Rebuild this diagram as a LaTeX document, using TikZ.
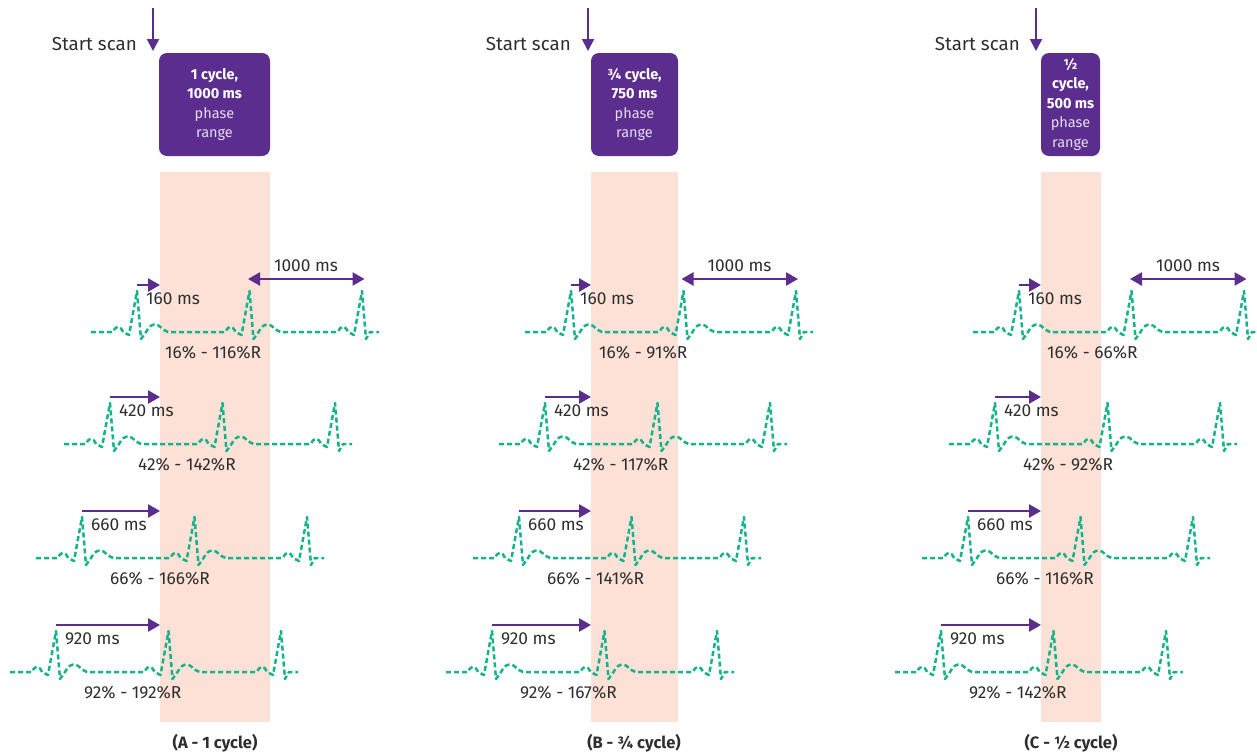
\documentclass[tikz,border=0pt]{standalone}
\usepackage{fontspec}
\setmainfont{Fira Sans}
\usetikzlibrary{arrows.meta}
\definecolor{pur}{HTML}{5B2D8E}
\definecolor{pinkband}{HTML}{FDE1D6}
\definecolor{ecggreen}{HTML}{14B38B}
\definecolor{txt}{HTML}{2E2E2E}
\definecolor{boxlight}{HTML}{E6DDF2}
\tikzset{
  ecg/.style={draw=ecggreen, line width=2.5pt, dash pattern=on 5pt off 3pt, line join=round},
  marr/.style={draw=pur, line width=2.4pt, -{Triangle[length=12pt,width=13pt]}},
  dblarr/.style={draw=pur, line width=2.4pt, {Triangle[length=12pt,width=13pt]}-{Triangle[length=12pt,width=13pt]}},
  darr/.style={draw=pur, line width=2pt, -{Triangle[length=12pt,width=12pt]}},
  lbl/.style={inner sep=0pt, text=txt, font=\fontsize{17.3}{20}\selectfont},
  sslbl/.style={inner sep=0pt, text=txt, font=\fontsize{18.8}{22}\selectfont},
  caplbl/.style={inner sep=0pt, text=txt, font=\fontsize{16.5}{19}\selectfont\bfseries},
  phbox/.style={fill=pur, rounded corners=8pt, inner sep=0pt, align=center, text=white,
     font=\fontsize{14.5}{19.5}\selectfont},
  band/.style={fill=pinkband, draw=none}
}
\newcommand\ecgrow[6]{%
  \pgfmathsetmacro\ra{#2}%
  \pgfmathsetmacro\rb{#2+112.5}%
  \pgfmathsetmacro\rc{#2+225}%
  \draw[ecg] ({\ra-46},#3) -- ({\ra-24},#3)
    .. controls ({\ra-21},{#3-7}) and ({\ra-17},{#3-7}) .. ({\ra-14},#3)
    -- ({\ra-8},{#3+3}) -- (\ra,{#3-41}) -- ({\ra+4},{#3+7}) -- ({\ra+9},#3)
    .. controls ({\ra+14},{#3-10}) and ({\ra+21},{#3-9}) .. ({\ra+25},{#3-3}) -- ({\ra+31},#3)
    -- ({\rb-24},#3)
    .. controls ({\rb-21},{#3-7}) and ({\rb-17},{#3-7}) .. ({\rb-14},#3)
    -- ({\rb-8},{#3+3}) -- (\rb,{#3-41}) -- ({\rb+4},{#3+7}) -- ({\rb+9},#3)
    .. controls ({\rb+14},{#3-10}) and ({\rb+21},{#3-9}) .. ({\rb+25},{#3-3}) -- ({\rb+31},#3)
    -- ({\rc-24},#3)
    .. controls ({\rc-21},{#3-7}) and ({\rc-17},{#3-7}) .. ({\rc-14},#3)
    -- ({\rc-8},{#3+3}) -- (\rc,{#3-41}) -- ({\rc+4},{#3+7}) -- ({\rc+8},#3) -- ({\rc+17},#3);
  \coordinate (#1a) at (\ra,{#3-47});
  \coordinate (#1b) at (#4,{#3-47});
  \draw[marr] (#1a) -- (#1b);
  \node[lbl, anchor=west] (#1m) at ({\ra+9},{#3-33}) {#5};
  \node[lbl, anchor=west] (#1p) at ({\ra+28},{#3+21}) {#6};
}
\newcommand\thousand[3]{%
  \coordinate (#1l) at ({#2-2},{#3-53});
  \coordinate (#1r) at ({#2+114.5},{#3-53});
  \draw[dblarr] (#1l) -- (#1r);
  \node[lbl] (#1t) at ({#2+56},{#3-66}) {1000 ms};
}
\begin{document}
\begin{tikzpicture}[x=1pt,y=-1pt]
\useasboundingbox (0,0) rectangle (1257,755);
% bands
\path[band] (160,172) rectangle (270,722);
\path[band] (591,172) rectangle (678,722);
\path[band] (1041,172) rectangle (1101,722);
% boxes
\node[phbox, minimum width=111pt, minimum height=103pt] (boxA) at (214.5,104.5)
  {\textbf{1 cycle,}\\\textbf{1000 ms}\\\textcolor{boxlight}{phase}\\\textcolor{boxlight}{range}};
\node[phbox, minimum width=87pt, minimum height=103pt] (boxB) at (634.5,104.5)
  {\textbf{¾ cycle,}\\\textbf{750 ms}\\\textcolor{boxlight}{phase}\\\textcolor{boxlight}{range}};
\node[phbox, minimum width=59pt, minimum height=103pt] (boxC) at (1070.5,104.5)
  {\textbf{½}\\\textbf{cycle,}\\\textbf{500 ms}\\\textcolor{boxlight}{phase}\\\textcolor{boxlight}{range}};
% start scan
\node[sslbl, anchor=east] (ssA) at (137,44) {Start scan};
\node[sslbl, anchor=east] (ssB) at (571,44) {Start scan};
\node[sslbl, anchor=east] (ssC) at (1020,44) {Start scan};
\coordinate (dA1) at (153,8); \coordinate (dA2) at (153,51);
\coordinate (dB1) at (588,8); \coordinate (dB2) at (588,51);
\coordinate (dC1) at (1036,8); \coordinate (dC2) at (1036,51);
\draw[darr] (dA1) -- (dA2);
\draw[darr] (dB1) -- (dB2);
\draw[darr] (dC1) -- (dC2);
% panel A
\ecgrow{A1}{137}{332}{160}{160 ms}{16\% - 116\%R}
\ecgrow{A2}{110}{444}{160}{420 ms}{42\% - 142\%R}
\ecgrow{A3}{82}{558}{160}{660 ms}{66\% - 166\%R}
\ecgrow{A4}{56}{672}{160}{920 ms}{92\% - 192\%R}
\thousand{TA}{250}{332}
% panel B
\ecgrow{B1}{571}{332}{591}{160 ms}{16\% - 91\%R}
\ecgrow{B2}{545}{444}{591}{420 ms}{42\% - 117\%R}
\ecgrow{B3}{519}{558}{591}{660 ms}{66\% - 141\%R}
\ecgrow{B4}{492}{672}{591}{920 ms}{92\% - 167\%R}
\thousand{TB}{683.5}{332}
% panel C
\ecgrow{C1}{1019}{332}{1041}{160 ms}{16\% - 66\%R}
\ecgrow{C2}{995}{444}{1041}{420 ms}{42\% - 92\%R}
\ecgrow{C3}{968}{558}{1041}{660 ms}{66\% - 116\%R}
\ecgrow{C4}{941}{672}{1041}{920 ms}{92\% - 142\%R}
\thousand{TC}{1132}{332}
% captions
\node[caplbl] (capA) at (215,743) {(A - 1 cycle)};
\node[caplbl] (capB) at (634,743) {(B - ¾ cycle)};
\node[caplbl] (capC) at (1071,743) {(C - ½ cycle)};
\end{tikzpicture}
\end{document}
